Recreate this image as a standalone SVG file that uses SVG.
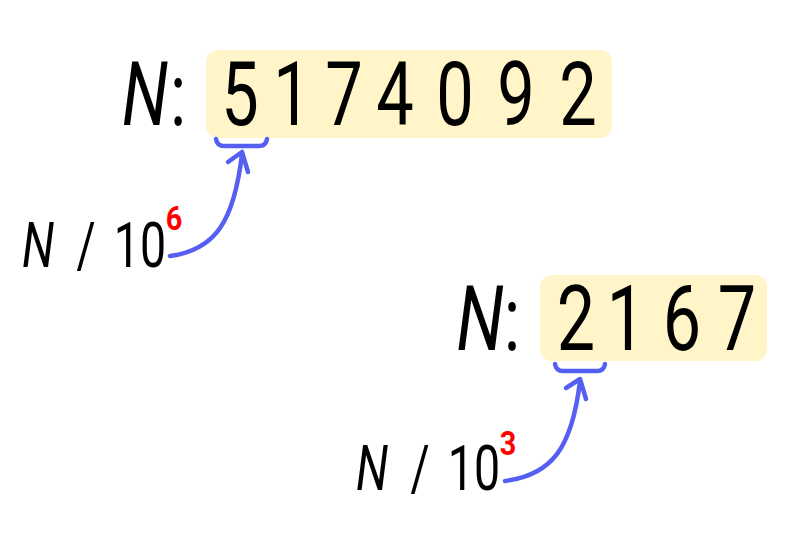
<svg xmlns="http://www.w3.org/2000/svg" width="794" height="537" viewBox="0 0 794 537">
<defs>
<style>
.t{font-family:Roboto,"Liberation Sans",sans-serif;font-weight:400;fill:#000;text-anchor:middle}
.big{font-size:89px}
.big2{font-size:91px}
.lab{font-size:62px}
.it{font-style:italic}
.sup{font-family:Roboto,"Liberation Sans",sans-serif;font-weight:700;fill:#ff0000;font-size:34px;text-anchor:middle}
.box{fill:#fff5c8}
.blue{fill:none;stroke:#5560f2;stroke-width:4.5;stroke-linecap:round;stroke-linejoin:round}
</style>
</defs>
<rect width="794" height="537" fill="#fff"/>
<g id="number1">
<rect class="box" x="206" y="50" width="406" height="88" rx="12"/>
<text class="t big it" transform="translate(145,125) scale(0.75,1)">N</text>
<text class="t big" transform="translate(178,125) scale(0.75,1)">:</text>
<text class="t big" transform="translate(240,125) scale(0.75,1)">5</text>
<text class="t big" transform="translate(292,125) scale(0.75,1)">1</text>
<text class="t big" transform="translate(344,125) scale(0.75,1)">7</text>
<text class="t big" transform="translate(395,125) scale(0.75,1)">4</text>
<text class="t big" transform="translate(455,125) scale(0.75,1)">0</text>
<text class="t big" transform="translate(516,125) scale(0.75,1)">9</text>
<text class="t big" transform="translate(578,125) scale(0.75,1)">2</text>
</g>
<g id="number2">
<rect class="box" x="540" y="275" width="227" height="86" rx="12"/>
<text class="t big2 it" transform="translate(480,350) scale(0.75,1)">N</text>
<text class="t big2" transform="translate(512,350) scale(0.75,1)">:</text>
<text class="t big2" transform="translate(576,350) scale(0.75,1)">2</text>
<text class="t big2" transform="translate(626,350) scale(0.75,1)">1</text>
<text class="t big2" transform="translate(682,350) scale(0.75,1)">6</text>
<text class="t big2" transform="translate(737,350) scale(0.75,1)">7</text>
</g>
<g id="label1">
<text class="t lab it" transform="translate(38,267) scale(0.75,1)">N</text>
<text class="t lab" transform="translate(86,267) scale(0.75,1)">/</text>
<text class="t lab" transform="translate(140,267) scale(0.75,1)">10</text>
<text class="sup" transform="translate(174,230) scale(0.85,1)">6</text>
</g>
<g id="label2">
<text class="t lab it" transform="translate(372,490) scale(0.75,1)">N</text>
<text class="t lab" transform="translate(420,490) scale(0.75,1)">/</text>
<text class="t lab" transform="translate(474,490) scale(0.75,1)">10</text>
<text class="sup" transform="translate(508,455) scale(0.85,1)">3</text>
</g>
<g id="connectors">
<path class="blue" d="M216,139 Q217,146 224,146 L259,146 Q266,146 267,139"/>
<path class="blue" d="M170,256 C215,250 234,222 242,154"/>
<path class="blue" d="M228,162 L242,152 L248,172"/>
<path class="blue" d="M555,364 Q556,371 563,371 L597,371 Q604,371 605,364"/>
<path class="blue" d="M505,481 C552,475 572,448 580,381"/>
<path class="blue" d="M566,388 L580,379 L586,399"/>
</g>
</svg>
